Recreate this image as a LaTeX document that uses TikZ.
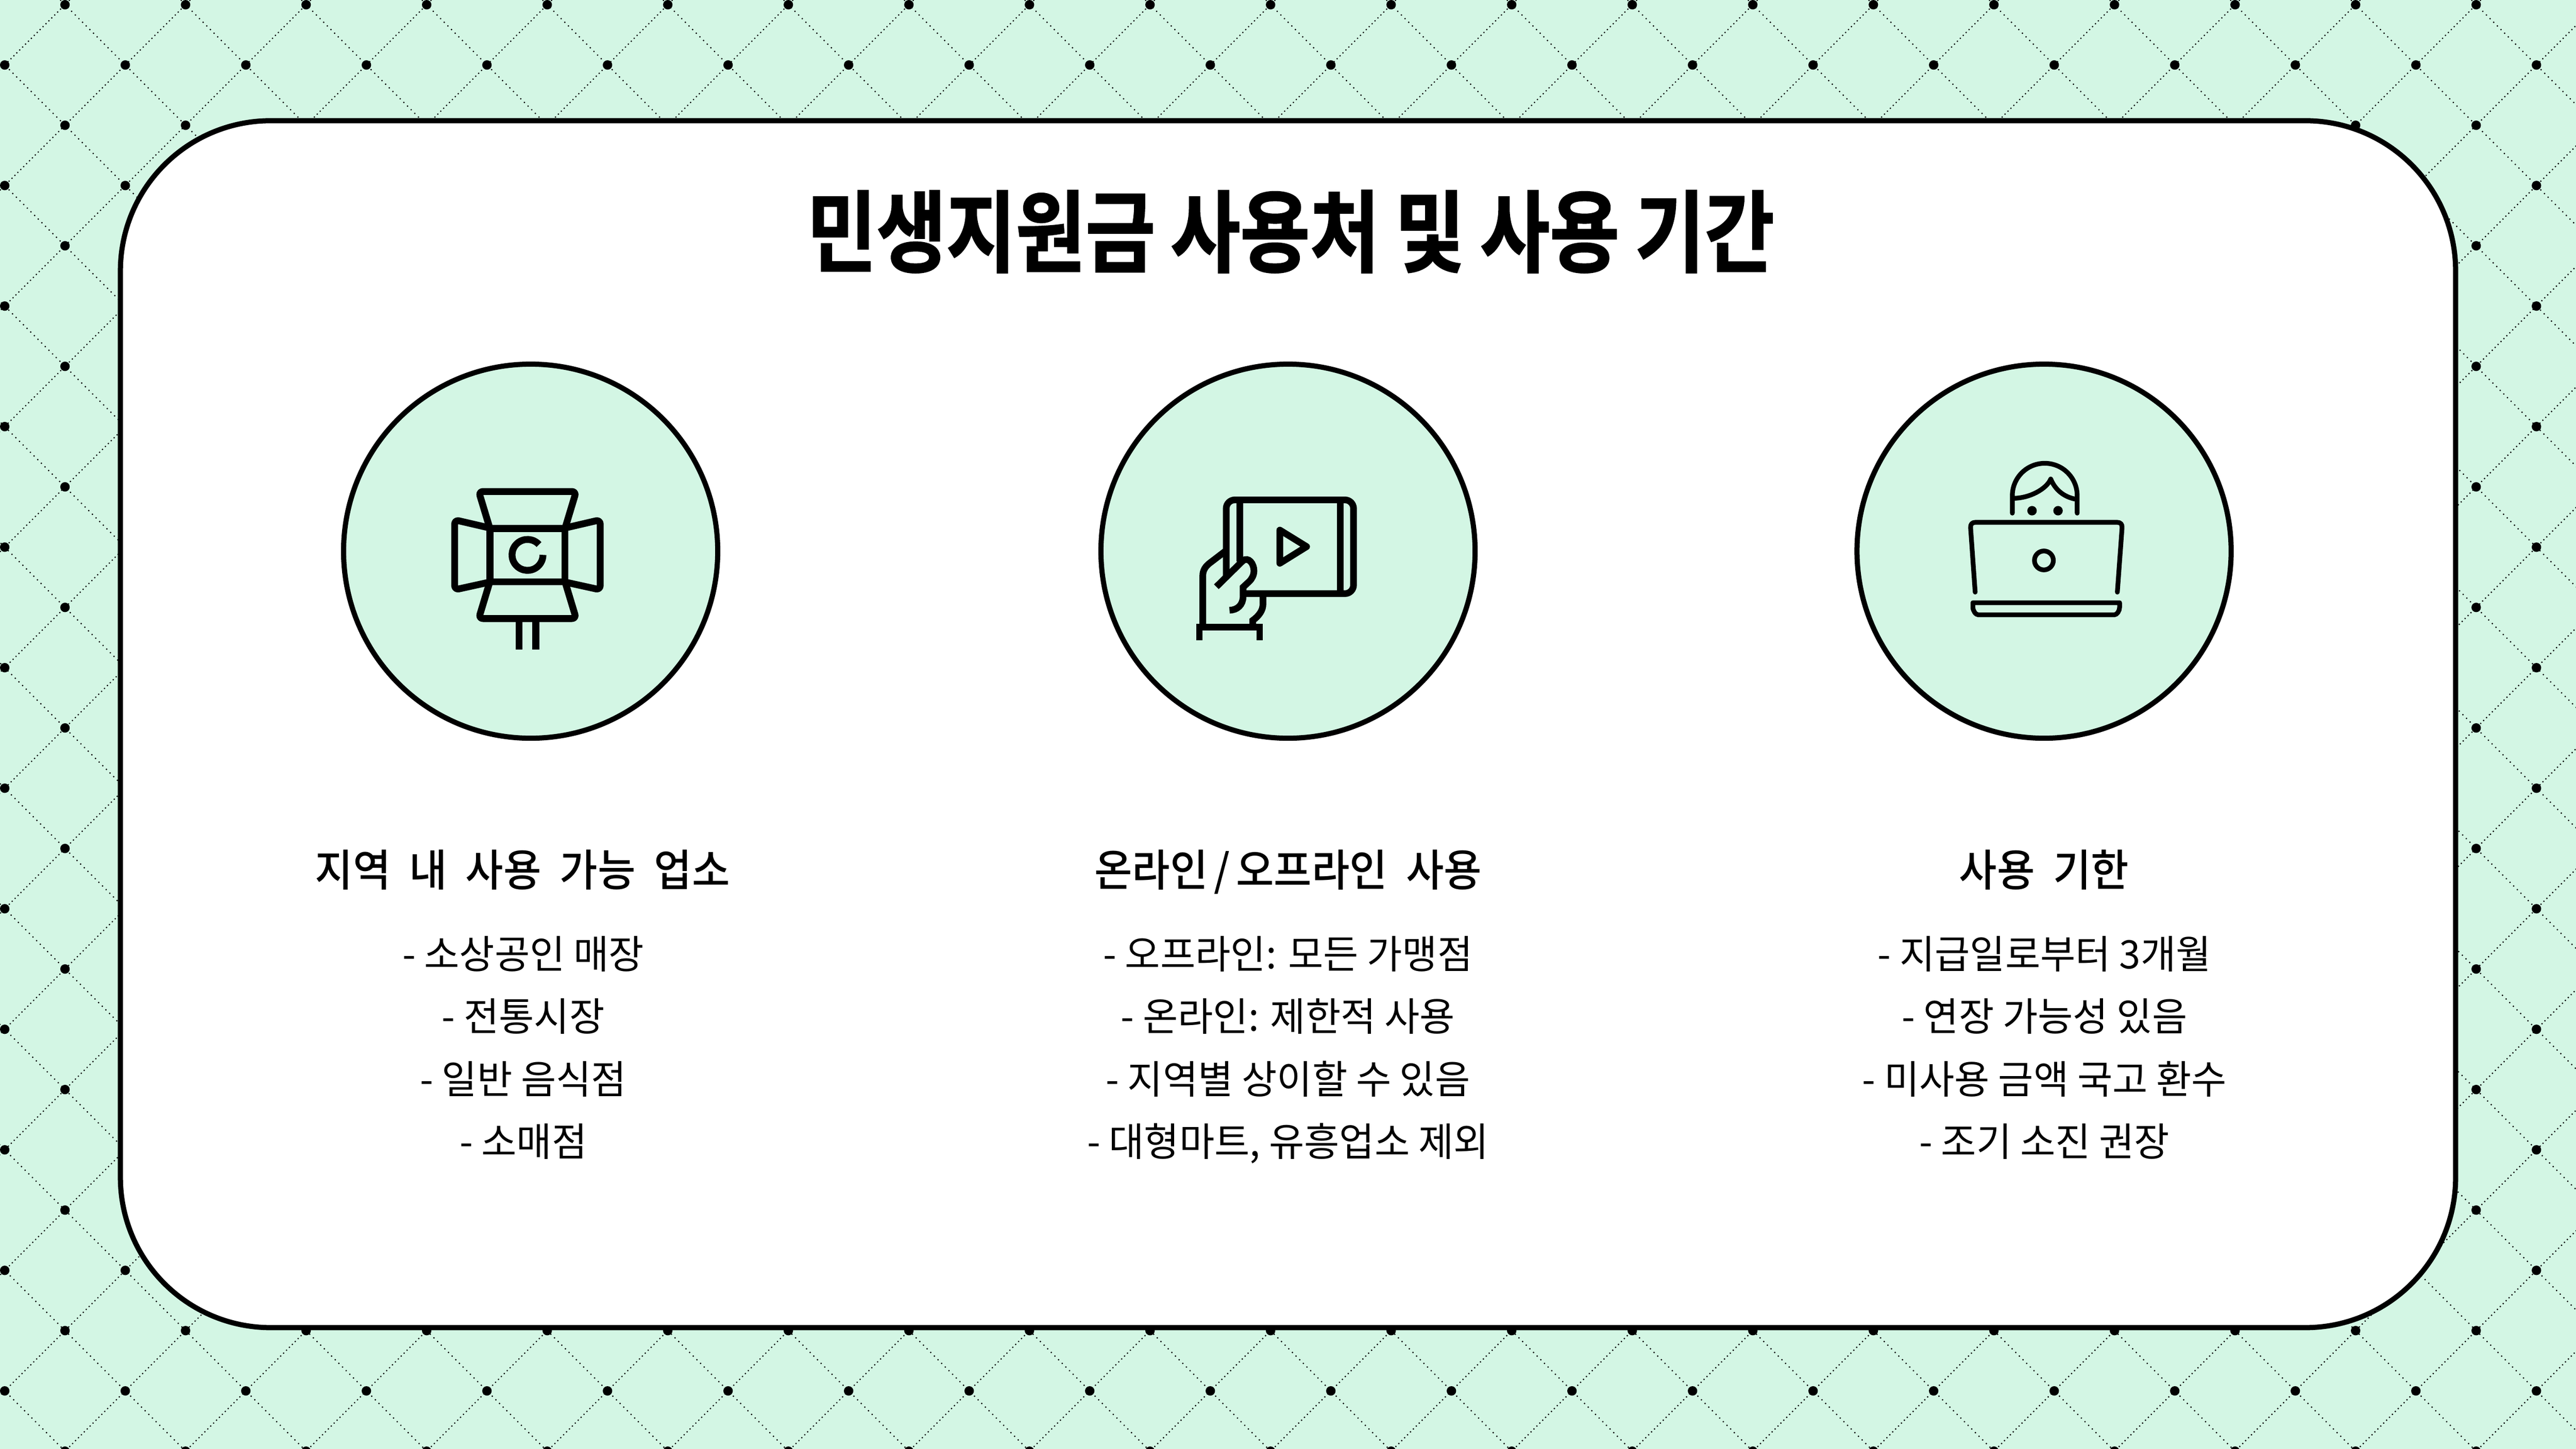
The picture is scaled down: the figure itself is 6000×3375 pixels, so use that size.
\documentclass[tikz,border=0pt]{standalone}
\usepackage{fontspec}
\newfontfamily\krtitle[FakeStretch=0.85,FakeBold=1.4,WordSpace=0.9]{Noto Sans CJK KR Bold}
\newfontfamily\krhead[FakeStretch=0.94,WordSpace=2]{Noto Sans CJK KR Medium}
\newfontfamily\krbody[FakeStretch=0.975]{Noto Sans CJK KR}
\definecolor{mintbg}{HTML}{D3F6E4}
\tikzset{
	gridlineA/.style={black,line width=0.027cm,dash pattern=on 0.027cm off 0.069cm},
	gridlineB/.style={black,line width=0.027cm,dash pattern=on 0.027cm off 0.093cm},
	griddot/.style={circle,fill=black,inner sep=0pt,minimum size=0.22cm},
	cardbox/.style={draw=black,fill=white,line width=0.12cm,rounded corners=3.5cm,minimum width=54.36cm,minimum height=28.1cm,inner sep=0pt},
	disc/.style={circle,draw=black,fill=mintbg,line width=0.12cm,minimum size=8.71cm,inner sep=0pt},
	titletext/.style={font=\krtitle\fontsize{59}{64}\selectfont,inner sep=0pt,text height=50pt,text depth=10pt},
	headtext/.style={font=\krhead\fontsize{29}{32}\selectfont,inner sep=0pt,text height=24pt,text depth=8pt},
	bodytext/.style={font=\krbody\fontsize{26}{41.5}\selectfont,align=center,inner sep=0pt,
		execute at begin node=\rule{0pt}{25pt},execute at end node=\rule[-9pt]{0pt}{9pt}},
	iconA/.style={line width=0.16cm,line join=round},
	iconB/.style={line width=0.155cm},
	iconC/.style={line width=0.11cm,line cap=round,line join=round}
}
\begin{document}
\begin{tikzpicture}[x=0.01cm,y=-0.01cm]
	\useasboundingbox (0,0) rectangle (6000,3375);
	\fill[mintbg] (0,0) rectangle (6000,3375);
	% lattice
	\begin{scope}
	\clip (0,0) rectangle (6000,3375);
	\foreach \k in {-13,...,21} {
		\pgfmathsetmacro{\c}{140.4+280.8*\k}
		\draw[gridlineB] (\c,0)--(\c+3375,3375);
	}
	\foreach \k in {0,...,33} {
		\pgfmathsetmacro{\c}{162.4+280.8*\k}
		\draw[gridlineA] (\c,0)--(\c-3375,3375);
	}
	\foreach \i in {0,...,21} {
		\foreach \j in {0,...,12} {
			\node[griddot] at (151.4+280.8*\i,11+280.8*\j) {};
			\node[griddot] at (11+280.8*\i,151.4+280.8*\j) {};
		}
	}
	\end{scope}
	% card
	\node[cardbox] (card) at (3000,1687) {};
	\node[titletext] (title) at (3006,547) {민생지원금 사용처 및 사용 기간};
	\node[disc] (shopdisc) at (1236,1284) {};
	\node[disc] (videodisc) at (3000,1284) {};
	\node[disc] (laptopdisc) at (4761,1284) {};
	% light
	\begin{scope}[iconA]
	\draw (1141,1231) rectangle (1316,1355);
	\draw[rounded corners=0.1cm] (1141,1231)--(1115,1145)--(1342,1145)--(1316,1231);
	\draw[rounded corners=0.1cm] (1141,1355)--(1115,1441)--(1342,1441)--(1316,1355);
	\draw[rounded corners=0.1cm] (1141,1230)--(1059,1211)--(1059,1374)--(1141,1356);
	\draw[rounded corners=0.1cm] (1316,1230)--(1398,1211)--(1398,1374)--(1316,1356);
	\draw (1209,1441)--(1209,1513);
	\draw (1248,1441)--(1248,1513);
	\draw (1255.4,1268.6) arc[start angle=42,end angle=360,radius=0.36cm];
	\end{scope}
	% tablet in hand
	\begin{scope}[shift={(2700,1100)},x=0.003333cm,y=-0.003333cm,iconB]
	\draw[rounded corners=0.2cm] (469,725)--(469,194)--(1360,194)--(1360,850)--(590,850);
	\draw (563,194)--(563,625);
	\draw (1266,194)--(1266,850);
	\draw[line join=round] (844,405)--(1032,521)--(844,638)--cycle;
	\draw (281,1178)--(281,1085)--(703,1085)--(703,1178);
	\draw (305,1085)--(305,725) .. controls (305,685) and (325,658) .. (355,635)--(469,548);
	\draw (400,802)--(585,620) .. controls (625,590) and (663,640) .. (663,690) .. controls (663,720) and (650,745) .. (630,765)--(587,805)--(587,870) .. controls (587,930) and (545,966) .. (492,966);
	\draw (726,850)--(726,925) .. controls (726,965) and (700,1005) .. (655,1037)--(655,1085);
	\end{scope}
	% laptop
	\begin{scope}[shift={(4500,1040)},x=0.003333cm,y=-0.003333cm,iconC]
	\draw (302,1020)--(270,570) .. controls (268,545) and (280,531) .. (305,531)--(1295,531) .. controls (1320,531) and (1332,545) .. (1330,570)--(1297,1020);
	\draw (286,1094)--(1313,1094)--(1313,1125) .. controls (1313,1150) and (1295,1179) .. (1275,1179)--(325,1179) .. controls (305,1179) and (286,1150) .. (286,1125)--cycle;
	\draw (783,798) circle[radius=0.22cm];
	\draw (562,467)--(562,345) arc[start angle=180,end angle=0,radius=0.755cm]--(1016,467);
	\draw (570,363) .. controls (680,363) and (800,300) .. (831,228) .. controls (860,300) and (920,355) .. (1010,370);
	\fill (700,450) circle[radius=0.11cm];
	\fill (882,450) circle[radius=0.11cm];
	\end{scope}
	% texts
	\node[headtext] (shophead) at (1217,2036) {지역 내 사용 가능 업소};
	\node[headtext] (videohead) at (3000,2036) {온라인\kern4pt/\kern4pt오프라인 사용};
	\node[headtext] (laptophead) at (4761,2036) {사용 기한};
	\node[bodytext] (shoplist) at (1219,2453) {- 소상공인 매장\\- 전통시장\\- 일반 음식점\\- 소매점};
	\node[bodytext] (videolist) at (3000,2453) {- 오프라인: 모든 가맹점\\- 온라인: 제한적 사용\\- 지역별 상이할 수 있음\\- 대형마트, 유흥업소 제외};
	\node[bodytext] (laptoplist) at (4762,2453) {- 지급일로부터 3개월\\- 연장 가능성 있음\\- 미사용 금액 국고 환수\\- 조기 소진 권장};
\end{tikzpicture}
\end{document}
